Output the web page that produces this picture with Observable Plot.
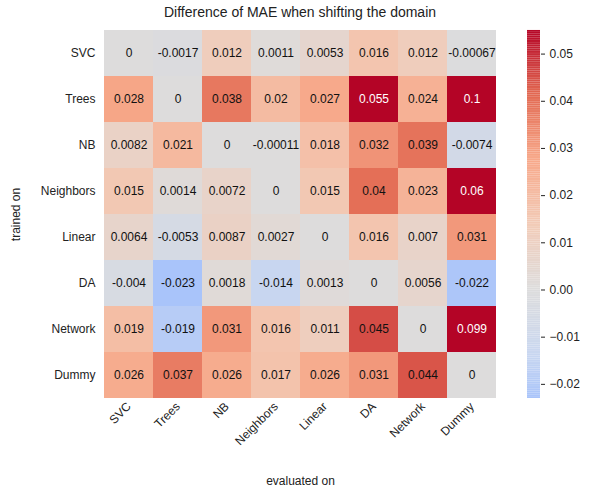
<!DOCTYPE html>
<html><head><meta charset="utf-8">
<script src="https://cdn.jsdelivr.net/npm/d3@7"></script>
<script src="https://cdn.jsdelivr.net/npm/@observablehq/plot@0.6"></script>
<style>
body{margin:0;background:#fff;font-family:"Liberation Sans",Arial,sans-serif}
#wrap{position:relative;width:597px;height:494px}
#title{position:absolute;left:103px;width:394px;top:4px;text-align:center;font-size:14px;color:#222}
#main{position:absolute;left:0;top:0}
#bar{position:absolute;left:497px;top:0}
</style></head><body>
<div id="wrap"><div id="main"></div><div id="bar"></div><div id="title">Difference of MAE when shifting the domain</div></div>
<script>
const models = ["SVC","Trees","NB","Neighbors","Linear","DA","Network","Dummy"];
const values = [
  [0,-0.0017,0.012,0.0011,0.0053,0.016,0.012,-0.00067],
  [0.028,0,0.038,0.02,0.027,0.055,0.024,0.1],
  [0.0082,0.021,0,-0.00011,0.018,0.032,0.039,-0.0074],
  [0.015,0.0014,0.0072,0,0.015,0.04,0.023,0.06],
  [0.0064,-0.0053,0.0087,0.0027,0,0.016,0.007,0.031],
  [-0.004,-0.023,0.0018,-0.014,0.0013,0,0.0056,-0.022],
  [0.019,-0.019,0.031,0.016,0.011,0.045,0,0.099],
  [0.026,0.037,0.026,0.017,0.026,0.031,0.044,0]
];
const barTicks = [-0.02,-0.01,0,0.01,0.02,0.03,0.04,0.05];
const vmin = -0.023, vmax = 0.055;

const cw = d3.piecewise(d3.interpolateRgb, ["#3b4cc0","#6788ee","#9abbff","#c9d7f0","#dddcdc","#f2cbb7","#f7a889","#e26952","#b40426"]);
const colorOf = v => cw((Math.max(vmin, Math.min(vmax, v)) + vmax) / (2 * vmax));

const cells = [];
values.forEach((row, i) => row.forEach((v, j) => cells.push({train: models[i], evalOn: models[j], v})));

const main = Plot.plot({
  width: 520, height: 494,
  marginLeft: 103, marginRight: 23, marginTop: 30, marginBottom: 96,
  style: {fontFamily: "Liberation Sans, Arial, sans-serif", fontSize: "12px", color: "#222"},
  x: {domain: models, padding: 0, label: "evaluated on", labelAnchor: "center", labelOffset: 86, tickRotate: -45, tickSize: 0, tickPadding: 6},
  y: {domain: models, padding: 0, label: "trained on", labelAnchor: "center", labelOffset: 92, tickSize: 0, tickPadding: 8},
  marks: [
    Plot.cell(cells, {x: "evalOn", y: "train", fill: d => colorOf(d.v), inset: 0}),
    Plot.text(cells, {x: "evalOn", y: "train", text: d => String(d.v), fontSize: 12,
      fill: d => d.v > 0.05 ? "white" : "#111"})
  ]
});
main.querySelectorAll("[aria-label='y-axis label'] text, [aria-label='y-axis label']").forEach(e => {});
document.getElementById("main").appendChild(main);

const steps = d3.range(0, 200).map(i => vmin + (vmax - vmin) * i / 200);
const bar = Plot.plot({
  width: 100, height: 494,
  marginLeft: 30, marginRight: 57, marginTop: 30, marginBottom: 96,
  style: {fontFamily: "Liberation Sans, Arial, sans-serif", fontSize: "12px", color: "#222"},
  x: {axis: null, domain: [0, 1]},
  y: {domain: [vmin, vmax], axis: "right", ticks: barTicks, tickFormat: d3.format(".2f"), label: null, tickSize: 4},
  marks: [
    Plot.rect(steps, {x1: 0, x2: 1, y1: d => d, y2: d => d + (vmax - vmin) / 200 * 1.02, fill: d => colorOf(d)})
  ]
});
document.getElementById("bar").appendChild(bar);
</script></body></html>
